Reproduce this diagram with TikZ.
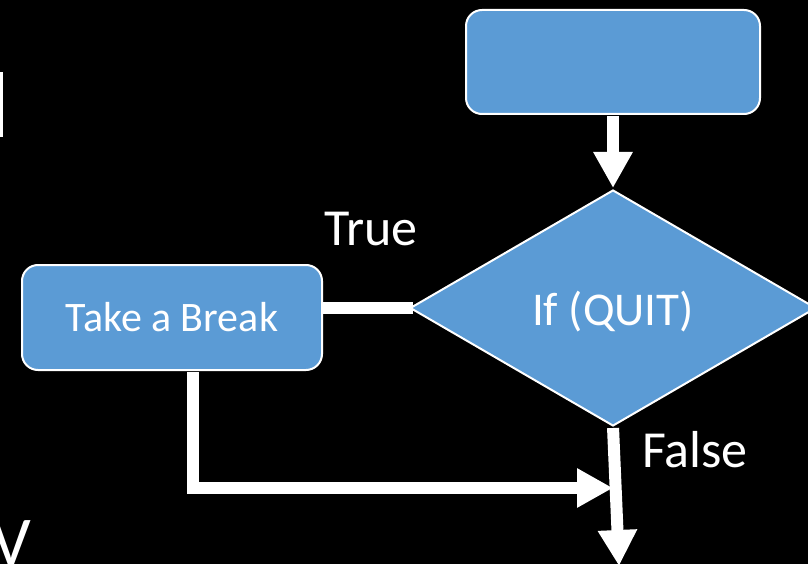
\documentclass[tikz,border=0pt]{standalone}
\usepackage{fontspec}
\setmainfont{Carlito}
\usetikzlibrary{shapes.geometric,arrows.meta}
\definecolor{flowblue}{HTML}{5B9BD5}
\tikzset{
  block/.style={rectangle, rounded corners=16pt, fill=flowblue, draw=white,
    line width=2pt, text=white, inner sep=0pt, align=center},
  decision/.style={diamond, fill=flowblue, draw=white, line width=2pt,
    text=white, inner sep=0pt, minimum width=406pt, minimum height=236pt},
  flow/.style={draw=white, line width=12pt},
  flowarrow/.style={flow, -{Triangle[length=36pt,width=37pt]}},
  tag/.style={text=white, inner sep=0pt, font=\fontsize{52pt}{60pt}\selectfont}
}
\begin{document}
\begin{tikzpicture}[x=1pt, y=-1pt]
  \fill[black] (0,0) rectangle (808,564);
  \clip (0,0) rectangle (808,564);

  % slide fragments at the left edge
  \fill[white] (0,72) rectangle (3,137);
  \node[text=white, inner sep=0pt, anchor=base east,
        font=\fontsize{70pt}{80pt}\selectfont] (vfrag) at (31,565) {V};

  % flowchart blocks
  \node[block, minimum width=294pt, minimum height=104pt] (top) at (613,62) {};
  \node[decision, font=\fontsize{47pt}{54pt}\selectfont,
        text height=34pt, text depth=0pt] (dia) at (613,308) {If (QUIT)};
  \node[block, minimum width=300pt, minimum height=105pt,
        font=\fontsize{42pt}{48pt}\selectfont] (tab) at (172,317.5) {Take a Break};

  % branch labels
  \node[tag, anchor=base west] (true) at (324,245) {True};
  \node[tag, anchor=base west] (false) at (642,467) {False};

  % connectors
  \coordinate (join) at (613,488);
  \coordinate (exit) at (619,566);
  \draw[flowarrow, shorten <=1pt, shorten >=1pt] (top.south) -- (dia.north);
  \draw[flow, shorten <=-4pt] (dia.west) -- (dia.west -| tab.east);
  \draw[flowarrow, shorten <=1pt] ([xshift=21pt]tab.south) |- (join);
  \draw[flowarrow, shorten <=1pt] (dia.south) -- (exit);
\end{tikzpicture}
\end{document}
